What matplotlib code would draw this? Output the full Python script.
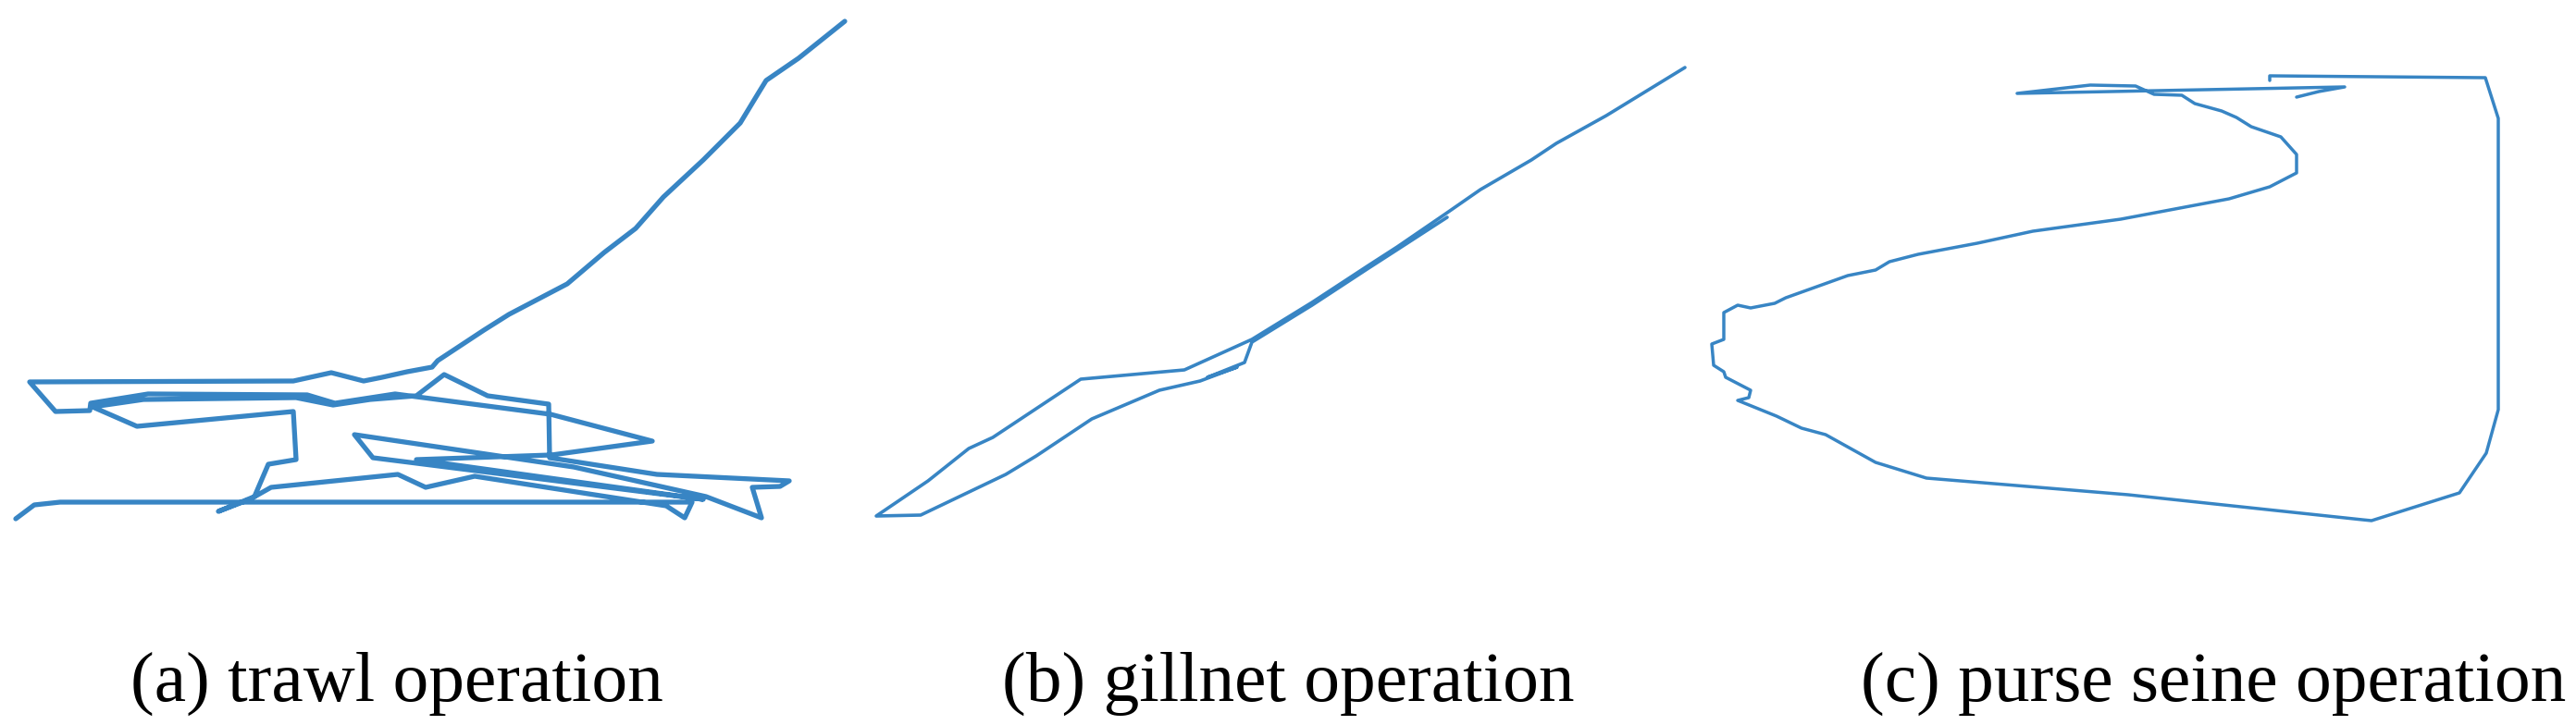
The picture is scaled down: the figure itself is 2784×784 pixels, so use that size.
import matplotlib
matplotlib.use("Agg")
import matplotlib.pyplot as plt
import numpy as np

# Trajectory readings (image pixel units of the reference, y downwards)
trawl_x = [17, 37, 65, 748, 740, 720, 513, 460, 430, 293, 270, 236, 275, 290, 320, 317, 148, 100, 155, 320,
           360, 400, 450, 480, 527, 593, 594, 710, 853, 843, 813, 823, 763, 620, 383, 403, 760, 450, 596, 705,
           595, 427, 362, 332, 160, 98, 97, 60, 32, 317, 358, 393, 413, 440, 467, 473, 523, 550, 613, 653,
           687, 717, 760, 800, 820, 828, 863, 913]
trawl_y = [561, 546, 543, 543, 560, 547, 515, 527, 513, 527, 540, 553, 537, 502, 497, 445, 461, 440, 432, 430,
           438, 432, 428, 405, 428, 437, 495, 513, 520, 526, 527, 560, 537, 505, 470, 495, 540, 497, 492, 477,
           448, 426, 436, 427, 426, 436, 444, 445, 413, 412, 403, 412, 408, 402, 397, 390, 357, 340, 307, 273,
           247, 213, 173, 133, 100, 87, 63, 23]

gill_x = [1821, 1736, 1682, 1655, 1600, 1564, 1510, 1479, 1418, 1353, 1280, 1168, 1073, 1047, 1003, 947,
          995, 1087, 1120, 1180, 1253, 1297, 1337, 1305, 1345, 1353, 1418, 1479, 1510, 1564]
gill_y = [73, 125, 155, 173, 205, 230, 267, 287, 327, 367, 400, 410, 473, 485, 520, 558,
          557, 513, 493, 453, 422, 412, 397, 408, 392, 370, 330, 290, 270, 235]

seine_x = [2453, 2453, 2686, 2700, 2700, 2687, 2658, 2563, 2553, 2300, 2082, 2027, 1973, 1947, 1920, 1878,
           1890, 1892, 1865, 1863, 1852, 1850, 1863, 1863, 1878, 1892, 1918, 1930, 1997, 2027, 2042, 2073,
           2137, 2197, 2292, 2409, 2453, 2482, 2482, 2465, 2433, 2417, 2401, 2372, 2358, 2328, 2308, 2259,
           2180, 2534, 2506, 2482]
seine_y = [87, 82, 84, 128, 443, 490, 533, 563, 562, 535, 517, 500, 470, 463, 450, 433,
           430, 422, 408, 402, 395, 372, 367, 338, 330, 333, 328, 322, 298, 292, 283, 275,
           263, 250, 237, 215, 202, 187, 167, 148, 137, 127, 120, 112, 103, 102, 93, 92,
           101, 94, 99, 105]

labels = ["(a) trawl operation", "(b) gillnet operation", "(c) purse seine operation"]
label_cx = [429, 1392, 2392]
label_w = [580, 618, 755]

W, H = 2784, 784
fig = plt.figure(figsize=(W / 100, H / 100), dpi=100)
fig.patch.set_facecolor("white")

color = "#2d7fc1"
panels = [
    (trawl_x, trawl_y, (0, 930), 3.8),
    (gill_x, gill_y, (930, 1840), 2.6),
    (seine_x, seine_y, (1840, 2784), 2.5),
]
for xs, ys, (x0, x1), lw in panels:
    ax = fig.add_axes([x0 / W, 0, (x1 - x0) / W, 1])
    ax.plot(xs, ys, color=color, lw=lw, solid_joinstyle="round", solid_capstyle="round", alpha=0.95)
    ax.set_xlim(x0, x1)
    ax.set_ylim(H, 0)
    ax.axis("off")

# labels in a full-figure axes
tax = fig.add_axes([0, 0, 1, 1])
tax.set_xlim(0, W)
tax.set_ylim(H, 0)
tax.axis("off")

fam = ["Liberation Serif", "DejaVu Serif"]
texts = [tax.text(cx, 758, s, ha="center", va="baseline", fontsize=40, family=fam, color="black")
         for s, cx in zip(labels, label_cx)]
fig.canvas.draw()
r = fig.canvas.get_renderer()
ratios = [w / t.get_window_extent(r).width for t, w in zip(texts, label_w)]
fs = 40 * float(np.mean(ratios))
for t in texts:
    t.set_fontsize(fs)

fig.savefig("out.png", dpi=100, facecolor="white")
